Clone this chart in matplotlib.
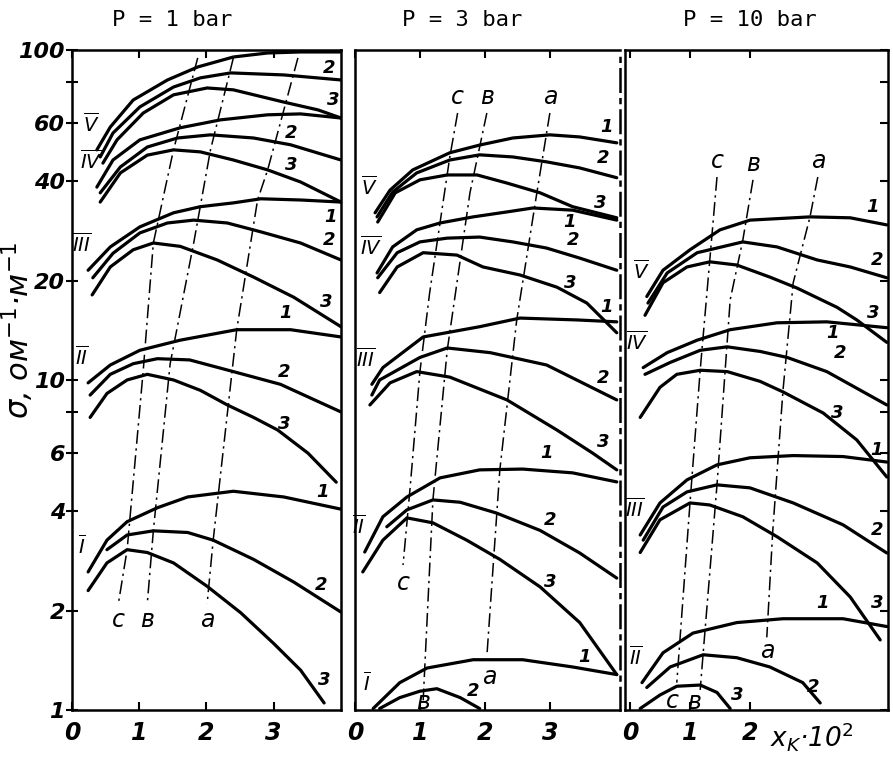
import matplotlib
matplotlib.use("Agg")
import matplotlib.pyplot as plt

# ---- P = 1 bar ----
p1_V1 = ([0.37, 0.57, 0.91, 1.42, 1.87, 2.40, 2.91, 3.40, 4.0], [49.8, 58.4, 70.5, 81.1, 88.8, 95.2, 97.9, 98.6, 98.6])
p1_V2 = ([0.42, 0.61, 1.01, 1.51, 1.91, 2.36, 3.15, 4.0], [47.4, 56.0, 67.2, 77.2, 82.3, 85.2, 84.0, 81.1])
p1_V3 = ([0.46, 0.67, 1.06, 1.51, 2.01, 2.40, 3.15, 3.66, 4.0], [45.4, 53.4, 64.4, 73.1, 76.7, 75.7, 69.5, 65.8, 62.2])
p1_IV1 = ([0.37, 0.61, 1.01, 1.61, 2.21, 2.91, 3.40, 4.0], [38.4, 46.4, 53.4, 58.1, 61.4, 63.6, 64.0, 62.2])
p1_IV2 = ([0.42, 0.72, 1.12, 1.57, 2.06, 2.70, 3.25, 4.0], [36.9, 44.2, 50.8, 54.1, 55.3, 54.1, 51.6, 46.4])
p1_IV3 = ([0.42, 0.72, 1.12, 1.51, 1.91, 2.40, 2.91, 3.40, 4.0], [34.6, 42.4, 48.0, 49.8, 49.1, 46.4, 43.3, 39.8, 34.6])
p1_III1 = ([0.24, 0.57, 1.01, 1.51, 1.91, 2.40, 2.81, 3.40, 4.0], [21.5, 25.3, 29.1, 32.1, 33.5, 34.4, 35.4, 35.1, 34.6])
p1_III2 = ([0.31, 0.61, 1.01, 1.42, 1.81, 2.31, 2.81, 3.40, 4.0], [20.4, 24.2, 27.9, 29.9, 30.5, 29.9, 28.1, 26.0, 23.1])
p1_III3 = ([0.30, 0.57, 0.91, 1.21, 1.61, 2.16, 2.70, 3.30, 4.0], [18.1, 22.0, 24.8, 26.0, 25.4, 23.1, 20.5, 17.8, 14.5])
p1_II1 = ([0.24, 0.57, 1.01, 1.61, 2.45, 3.25, 4.0], [9.8, 11.1, 12.3, 13.2, 14.2, 14.2, 13.5])
p1_II2 = ([0.27, 0.57, 0.91, 1.27, 1.75, 2.40, 3.10, 4.0], [9.0, 10.4, 11.2, 11.6, 11.5, 10.6, 9.7, 8.0])
p1_II3 = ([0.27, 0.52, 0.82, 1.12, 1.51, 1.91, 2.31, 2.70, 3.06, 3.51, 3.93], [7.7, 9.1, 10.0, 10.4, 10.0, 9.3, 8.4, 7.7, 7.05, 6.0, 4.9])
p1_I1 = ([0.24, 0.52, 0.82, 1.27, 1.72, 2.40, 3.15, 4.0], [2.62, 3.27, 3.72, 4.10, 4.42, 4.60, 4.42, 4.06])
p1_I2 = ([0.52, 0.82, 1.21, 1.72, 2.10, 2.70, 3.30, 4.0], [3.06, 3.39, 3.49, 3.45, 3.27, 2.86, 2.44, 1.98])
p1_I3 = ([0.24, 0.52, 0.82, 1.12, 1.51, 2.01, 2.51, 3.0, 3.40, 3.75], [2.3, 2.79, 3.06, 3.0, 2.79, 2.37, 1.97, 1.59, 1.32, 1.05])
p1_c = ([1.87, 1.51, 1.21, 1.06, 0.82, 0.69], [94.6, 49.8, 26.0, 10.7, 3.06, 2.1])
p1_b = ([2.40, 2.06, 1.81, 1.46, 1.21, 1.12], [94.6, 49.8, 26.0, 11.2, 3.49, 2.1])
p1_a = ([3.36, 2.91, 2.76, 2.45, 2.10, 2.01], [94.6, 43.3, 35.1, 14.2, 3.27, 2.1])

# ---- P = 3 bar ----
p2_V1 = ([0.31, 0.54, 0.89, 1.46, 1.92, 2.43, 3.0, 3.46, 4.03], [32.1, 37.6, 43.3, 48.8, 51.5, 54.1, 55.3, 54.5, 52.3])
p2_V2 = ([0.34, 0.58, 0.95, 1.46, 1.92, 2.43, 2.95, 3.46, 4.03], [31.2, 37.1, 42.4, 46.4, 48.1, 47.4, 45.8, 43.9, 41.0])
p2_V3 = ([0.35, 0.62, 1.0, 1.42, 1.88, 2.34, 2.85, 3.35, 4.03], [30.1, 36.9, 40.4, 41.8, 41.8, 39.5, 36.9, 33.5, 31.0])
p2_IV1 = ([0.34, 0.58, 0.95, 1.31, 1.82, 2.34, 2.74, 3.35, 4.03], [21.1, 25.3, 28.5, 29.9, 31.2, 32.3, 33.2, 32.7, 30.5])
p2_IV2 = ([0.35, 0.65, 1.0, 1.42, 1.92, 2.43, 2.95, 3.46, 4.03], [20.4, 24.3, 26.2, 26.9, 27.1, 26.2, 25.1, 23.4, 21.5])
p2_IV3 = ([0.38, 0.65, 1.05, 1.57, 1.97, 2.54, 3.11, 3.57, 4.03], [18.4, 22.0, 24.3, 23.9, 22.0, 20.8, 19.1, 17.1, 13.9])
p2_III1 = ([0.26, 0.43, 1.05, 1.92, 2.54, 3.42, 4.03], [9.7, 10.9, 13.5, 14.5, 15.4, 15.2, 15.0])
p2_III2 = ([0.26, 0.38, 1.0, 1.42, 2.08, 2.95, 4.03], [9.0, 10.0, 11.7, 12.5, 12.1, 11.1, 8.7])
p2_III3 = ([0.23, 0.54, 0.95, 1.46, 2.34, 3.11, 3.66, 4.03], [8.4, 9.8, 10.6, 10.2, 8.7, 7.05, 6.0, 5.34])
p2_II1 = ([0.15, 0.43, 0.80, 1.31, 1.92, 2.58, 3.35, 4.03], [3.01, 3.85, 4.42, 5.05, 5.34, 5.37, 5.23, 4.91])
p2_II2 = ([0.49, 0.80, 1.20, 1.62, 2.18, 2.85, 3.46, 4.03], [3.59, 4.04, 4.33, 4.26, 3.95, 3.5, 2.99, 2.51])
p2_II3 = ([0.12, 0.43, 0.80, 1.20, 1.72, 2.23, 2.85, 3.46, 4.03], [2.62, 3.27, 3.82, 3.69, 3.27, 2.86, 2.36, 1.84, 1.28])
p2_I1 = ([0.28, 0.69, 1.11, 1.82, 2.58, 3.35, 4.03], [1.01, 1.21, 1.34, 1.42, 1.42, 1.35, 1.28])
p2_I2 = ([0.38, 0.69, 1.0, 1.26, 1.62, 1.92], [1.01, 1.09, 1.14, 1.16, 1.09, 1.01])
p2_c = ([1.58, 1.46, 1.15, 1.0, 0.85, 0.74], [64.4, 47.4, 18.4, 10.6, 4.74, 2.75])
p2_b = ([2.03, 1.77, 1.42, 1.20, 1.05], [64.4, 36.9, 12.3, 4.33, 1.07])
p2_a = ([3.0, 2.80, 2.49, 2.23, 2.03], [64.4, 36.9, 15.2, 5.34, 1.45])

# ---- P = 10 bar ----
p3_V1 = ([0.28, 0.55, 1.0, 1.5, 2.0, 3.0, 3.67, 4.28], [17.9, 21.5, 24.8, 28.5, 30.5, 31.2, 31.0, 29.5])
p3_V2 = ([0.3, 0.62, 1.12, 1.88, 2.45, 3.12, 3.67, 4.28], [17.1, 21.1, 24.3, 26.2, 25.3, 23.1, 22.0, 20.4])
p3_V3 = ([0.25, 0.55, 0.95, 1.33, 1.78, 2.33, 2.78, 3.45, 3.78, 4.28], [15.7, 19.7, 22.0, 22.8, 22.3, 20.5, 19.0, 16.6, 15.2, 13.0])
p3_IV1 = ([0.22, 0.62, 1.12, 1.67, 2.45, 3.28, 4.28], [10.9, 12.1, 13.2, 14.2, 14.9, 15.0, 14.4])
p3_IV2 = ([0.25, 0.67, 1.17, 1.62, 2.17, 2.62, 3.28, 4.28], [10.4, 11.3, 12.3, 12.6, 12.2, 11.7, 10.6, 8.4])
p3_IV3 = ([0.17, 0.5, 0.78, 1.17, 1.62, 2.17, 2.55, 3.22, 3.78, 4.28], [7.7, 9.5, 10.4, 10.7, 10.6, 9.9, 9.2, 7.94, 6.58, 5.08])
p3_III1 = ([0.17, 0.5, 0.95, 1.45, 2.0, 2.72, 3.55, 4.28], [3.39, 4.24, 4.98, 5.53, 5.81, 5.9, 5.86, 5.64])
p3_III2 = ([0.22, 0.55, 0.95, 1.45, 2.0, 2.72, 3.55, 4.28], [3.27, 4.12, 4.58, 4.81, 4.71, 4.24, 3.64, 2.99])
p3_III3 = ([0.17, 0.5, 1.0, 1.33, 1.88, 2.45, 3.12, 3.67, 4.17], [3.0, 3.77, 4.24, 4.18, 3.85, 3.35, 2.79, 2.20, 1.63])
p3_II1 = ([0.2, 0.55, 1.05, 1.78, 2.55, 3.55, 4.28], [1.21, 1.49, 1.71, 1.84, 1.89, 1.89, 1.79])
p3_II2 = ([0.28, 0.67, 1.22, 1.78, 2.33, 2.88, 3.17], [1.17, 1.35, 1.47, 1.44, 1.35, 1.21, 1.05])
p3_II3 = ([0.17, 0.5, 0.78, 1.17, 1.45, 1.67], [1.01, 1.11, 1.18, 1.19, 1.13, 1.01])
p3_c = ([1.45, 1.33, 1.17, 1.0, 0.78], [41.2, 23.1, 10.7, 4.24, 1.21])
p3_b = ([2.05, 1.88, 1.67, 1.45, 1.22, 1.17], [40.4, 26.5, 17.5, 4.81, 1.49, 1.15])
p3_a = ([3.13, 3.0, 2.72, 2.55, 2.38, 2.28], [41.2, 31.2, 19.7, 9.3, 3.5, 1.66])

titles = ["P = 1 bar", "P = 3 bar", "P = 10 bar"]
yticks = [1, 2, 4, 6, 8, 10, 20, 40, 60, 80, 100]
ytick_labels = ["1", "2", "4", "6", "", "10", "20", "40", "60", "", "100"]

panels = [
    {"families": [("V", [p1_V1, p1_V2, p1_V3]), ("IV", [p1_IV1, p1_IV2, p1_IV3]),
                  ("III", [p1_III1, p1_III2, p1_III3]), ("II", [p1_II1, p1_II2, p1_II3]),
                  ("I", [p1_I1, p1_I2, p1_I3])],
     "lines": [("c", p1_c), ("в", p1_b), ("a", p1_a)],
     "top_labels": False},
    {"families": [("V", [p2_V1, p2_V2, p2_V3]), ("IV", [p2_IV1, p2_IV2, p2_IV3]),
                  ("III", [p2_III1, p2_III2, p2_III3]), ("II", [p2_II1, p2_II2, p2_II3]),
                  ("I", [p2_I1, p2_I2])],
     "lines": [("c", p2_c), ("в", p2_b), ("a", p2_a)],
     "top_labels": True},
    {"families": [("V", [p3_V1, p3_V2, p3_V3]), ("IV", [p3_IV1, p3_IV2, p3_IV3]),
                  ("III", [p3_III1, p3_III2, p3_III3]), ("II", [p3_II1, p3_II2, p3_II3])],
     "lines": [("c", p3_c), ("в", p3_b), ("a", p3_a)],
     "top_labels": True},
]

# curve-number label offsets from each curve's end (pixels); None = no label
label_offsets = [
    [[None, (-12, 12), (-8, 18)], [None, (-50, 27), (-50, 37)], [(-10, -15), (-12, 20), (-15, 25)],
     [(-55, 24), (-57, 40), (-52, 58)], [(-18, 17), (-20, 27), (0, 23)]],
    [[(-10, 16), (-14, 20), (-17, 15)], [(-47, -2), (-44, 30), (-47, 50)], [(-10, 15), (-14, 22), (-14, 28)],
     [(-70, 29), (-67, 58), (-67, 93)], [(-32, 18), (-7, 18)]],
    [[(-14, 18), (-10, 18), (-14, 29)], [(-54, -5), (-47, 52), (-50, 64)], [(-10, 12), (-10, 23), (-3, 37)],
     [(-64, 24), (-7, 16), (7, 14)]],
]
# offsets of the lower c / в / a letters from the line ends (pixels)
bottom_offsets = [[(0, -16), (0, -16), (0, -16)],
                  [(0, -18), (0, -2), (2, -20)],
                  [(-4, -18), (-6, -12), (0, -14)]]

# axes rectangles (figure fraction) and x ranges
rects = [[0.0806, 0.0646, 0.3012, 0.8696],
         [0.3975, 0.0646, 0.2968, 0.8696],
         [0.6999, 0.0646, 0.2945, 0.8696]]
xlims = [(0, 4.0), (0, 4.08), (-0.083, 4.3)]
xticks = [[0, 1, 2, 3], [0, 1, 2, 3], [0, 1, 2]]
title_x = [0.193, 0.518, 0.840]

hand = dict(fontstyle="italic", fontweight="bold", color="black")
dashdot = (0, (9, 3, 1.5, 3))

fig = plt.figure(figsize=(8.93, 7.59), dpi=100)

for k, panel in enumerate(panels):
    ax = fig.add_axes(rects[k])
    ax.set_yscale("log")
    ax.set_ylim(1, 100)
    ax.set_xlim(*xlims[k])

    for i, (fam, curves) in enumerate(panel["families"]):
        for j, (xs, ys) in enumerate(curves):
            ax.plot(xs, ys, color="black", lw=2.3, solid_capstyle="round")
            off = label_offsets[k][i][j]
            if off is not None:
                ax.annotate(str(j + 1), (xs[-1], ys[-1]), xytext=off,
                            textcoords="offset pixels", ha="center", va="center",
                            fontsize=13, **hand)
        x0, y0 = curves[0][0][0], curves[0][1][0]
        ax.annotate(r"$\overline{\mathit{%s}}$" % fam, (x0, y0), xytext=(-6, 26),
                    textcoords="offset pixels", ha="center", va="center",
                    fontsize=14, **hand)

    for n, (name, (xs, ys)) in enumerate(panel["lines"]):
        ax.plot(xs, ys, color="black", lw=1.1, ls=dashdot)
        ax.annotate(name, (xs[-1], ys[-1]), xytext=bottom_offsets[k][n],
                    textcoords="offset pixels", ha="center", va="center",
                    fontsize=17, fontstyle="italic")
        if panel["top_labels"]:
            ax.annotate(name, (xs[0], ys[0]), xytext=(0, 16), textcoords="offset pixels",
                        ha="center", va="center", fontsize=17, fontstyle="italic")

    ax.set_yticks(yticks)
    ax.minorticks_off()
    ax.set_xticks(xticks[k])
    ax.set_xticklabels([str(t) for t in xticks[k]], fontsize=17, **hand)
    if k == 0:
        ax.set_yticklabels(ytick_labels, fontsize=16, **hand)
        ax.tick_params(axis="y", direction="inout", length=8, width=1.5,
                       left=True, right=False, pad=1)
    else:
        ax.set_yticklabels([])
        ax.tick_params(axis="y", direction="in", length=6, width=1.5,
                       left=False, right=(k == 2))
    ax.tick_params(axis="x", direction="in", length=6, width=1.5, top=True, pad=8)
    for s in ax.spines.values():
        s.set_linewidth(1.8)
    if k == 1:
        ax.spines["right"].set_linestyle(dashdot)
    fig.text(title_x[k], 0.973, titles[k], ha="center", va="center",
             fontsize=16, family="DejaVu Sans Mono")

fig.text(0.02, 0.565, r"$\sigma$, ом$^{-1}$·м$^{-1}$", rotation=90, ha="center",
         va="center", fontsize=22, fontstyle="italic")
fig.text(0.862, 0.03, r"$x_K$·10$^2$", ha="left", va="center", fontsize=19,
         fontstyle="italic")

fig.savefig("out.png", dpi=100)
